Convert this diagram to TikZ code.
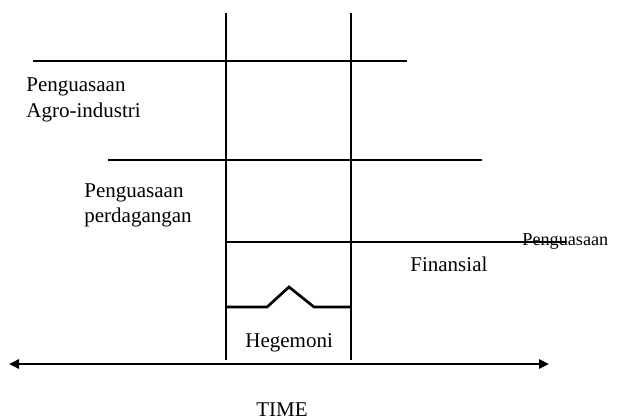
\documentclass[tikz,border=0pt]{standalone}
\usepackage{fontspec}
\setmainfont{Liberation Serif}
\usepackage{tikz}
\usetikzlibrary{arrows.meta}

\begin{document}
\begin{tikzpicture}[x=0.5pt,y=-0.5pt,
    bar/.style={line width=1.35pt},
    rule/.style={line width=0.75pt},
    lbl/.style={inner sep=0pt,anchor=base west,align=left,
                font=\fontsize{10.5}{12.8}\selectfont},
    small/.style={lbl,font=\fontsize{9.1}{11}\selectfont}]
    \useasboundingbox (0,0) rectangle (619,419);

    % era boundaries
    \coordinate (b1top) at (226,13);
    \coordinate (b1bot) at (226,360);
    \coordinate (b2top) at (351,13);
    \coordinate (b2bot) at (351,360);
    \draw[rule] (b1top) -- (b1bot);
    \draw[rule] (b2top) -- (b2bot);

    % phases
    \coordinate (agroL) at (33,61);
    \coordinate (agroR) at (407,61);
    \coordinate (dagangL) at (108,160);
    \coordinate (dagangR) at (482,160);
    \coordinate (finL) at (226,242);
    \coordinate (finR) at (567,242);
    \draw[bar] (agroL) -- (agroR);
    \draw[bar] (dagangL) -- (dagangR);
    \draw[rule] (finL) -- (finR);

    % hegemoni bump
    \coordinate (h0) at (226,307);
    \coordinate (h1) at (267,307);
    \coordinate (h2) at (289,287);
    \coordinate (h3) at (314,307);
    \coordinate (h4) at (351,307);
    \draw[bar] (h0) -- (h1) -- (h2) -- (h3) -- (h4);

    % time axis
    \coordinate (tL) at (9,364);
    \coordinate (tR) at (549,364);
    \draw[bar,{Triangle[length=5pt,width=4.5pt]}-{Triangle[length=5pt,width=4.5pt]}] (tL) -- (tR);

    % base of two-line labels = last line
    \node[lbl] (agro) at (26,117.3) {Penguasaan\\Agro-industri};
    \node[lbl] (dagang) at (84,222.7) {Penguasaan\\perdagangan};
    \node[small] (fin1) at (522,245) {Penguasaan};
    \node[lbl] (fin2) at (410,271.7) {Finansial};
    \node[lbl] (hege) at (245,347) {Hegemoni};
    \node[lbl] (time) at (256,416.5) {TIME};
\end{tikzpicture}
\end{document}
